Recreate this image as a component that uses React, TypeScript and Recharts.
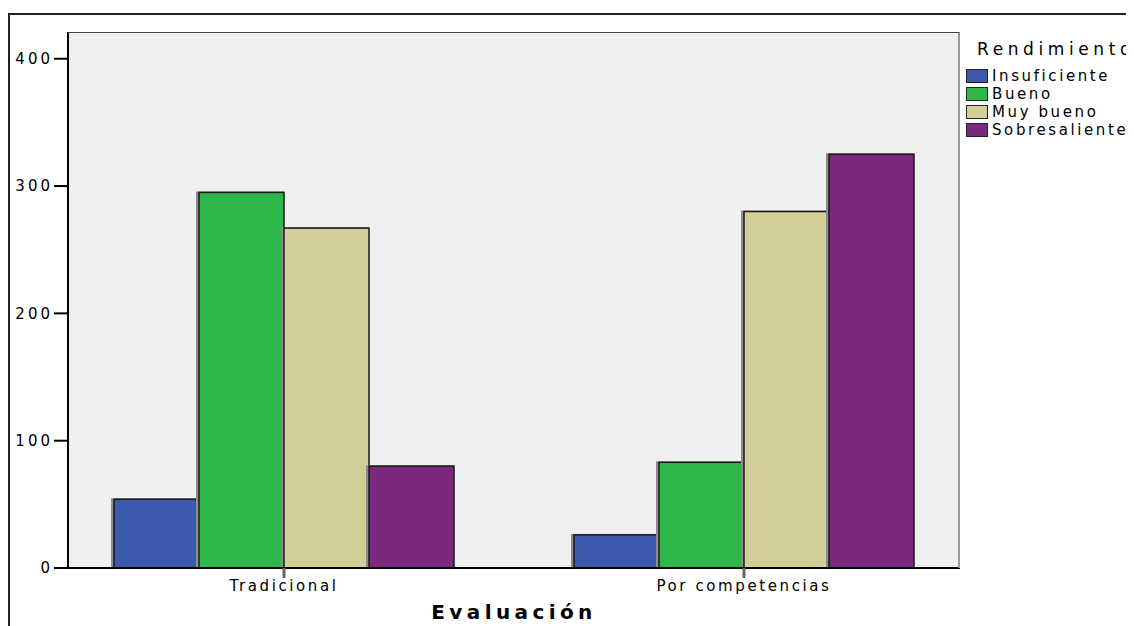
import { BarChart, Bar, XAxis, YAxis, CartesianGrid, Label } from "recharts";

// Conteos por tipo de evaluación y nivel de rendimiento
const categories = ["Tradicional", "Por competencias"];
const insuficiente = [54, 26];
const bueno = [295, 83];
const muyBueno = [267, 280];
const sobresaliente = [80, 325];
const yTicks = [0, 100, 200, 300, 400];

const series = [
  { key: "insuficiente", name: "Insuficiente", color: "#3D59AB" },
  { key: "bueno", name: "Bueno", color: "#2EB84A" },
  { key: "muyBueno", name: "Muy bueno", color: "#D3CF98" },
  { key: "sobresaliente", name: "Sobresaliente", color: "#7C287C" },
];

const data = categories.map((category, i) => ({
  category,
  insuficiente: insuficiente[i],
  bueno: bueno[i],
  muyBueno: muyBueno[i],
  sobresaliente: sobresaliente[i],
}));

const FONT = "'DejaVu Sans', sans-serif";

function ShadowBar(props: any) {
  const { x, y, width, height, fill } = props;
  if (!height) return null;
  return (
    <g>
      <rect x={x - 3} y={y - 1} width={width + 3} height={height + 1} fill="#8c8c8c" />
      <rect x={x} y={y} width={width} height={height} fill={fill} stroke="#1a1a1a" strokeWidth={1.5} />
    </g>
  );
}

function LegendBox() {
  return (
    <div style={{ position: "absolute", left: 958, top: 30, fontFamily: FONT, color: "#000", whiteSpace: "nowrap" }}>
      <div style={{ fontSize: 17, letterSpacing: 4.6, marginLeft: 11, lineHeight: "22px", marginBottom: 7 }}>Rendimiento</div>
      {series.map((s) => (
        <div key={s.key} style={{ display: "flex", alignItems: "center", height: 18, fontSize: 15, letterSpacing: 2.6 }}>
          <span
            style={{ display: "inline-block", width: 20, height: 12, background: s.color, border: "1px solid #222", marginRight: 4 }}
          />
          {s.name}
        </div>
      ))}
    </div>
  );
}

export default function App() {
  return (
    <div style={{ position: "relative", width: 1126, height: 618, overflow: "hidden", background: "#fff" }}>
      <div
        style={{
          position: "absolute",
          left: 0,
          top: 5,
          width: 1140,
          height: 640,
          borderTop: "2px solid #222",
          borderLeft: "2px solid #222",
        }}
      />
      <BarChart
        width={1126}
        height={618}
        data={data}
        margin={{ top: 24, right: 174, bottom: 28, left: 0 }}
        barCategoryGap={60}
        barGap={0}
      >
        <CartesianGrid fill="#F0F0F0" horizontal={false} vertical={false} />
        <XAxis
          dataKey="category"
          height={30}
          padding={{ left: -14, right: -14 }}
          axisLine={{ stroke: "#000", strokeWidth: 2 }}
          tickLine={{ stroke: "#666", strokeWidth: 3 }}
          tickSize={10}
          tickMargin={2}
          tick={{ fontFamily: FONT, fontSize: 15, fill: "#000", letterSpacing: 2.6 }}
        >
          <Label
            value="Evaluación"
            position="bottom"
            offset={7}
            style={{ fontFamily: FONT, fontSize: 20, fontWeight: "bold", fill: "#000", letterSpacing: 4.4 }}
          />
        </XAxis>
        <YAxis
          width={60}
          domain={[0, 421]}
          ticks={yTicks}
          axisLine={{ stroke: "#000", strokeWidth: 2 }}
          tickLine={{ stroke: "#000", strokeWidth: 2 }}
          tickSize={14}
          tickMargin={1}
          tick={{ fontFamily: FONT, fontSize: 15, fill: "#000", letterSpacing: 3 }}
        />
        {series.map((s) => (
          <Bar key={s.key} dataKey={s.key} name={s.name} fill={s.color} shape={ShadowBar} isAnimationActive={false} />
        ))}
      </BarChart>
      <div
        style={{
          position: "absolute",
          left: 60,
          top: 24,
          width: 892,
          height: 536,
          borderTop: "1.5px solid #444",
          borderRight: "2px solid #999",
          boxSizing: "border-box",
          pointerEvents: "none",
        }}
      />
      <LegendBox />
    </div>
  );
}
